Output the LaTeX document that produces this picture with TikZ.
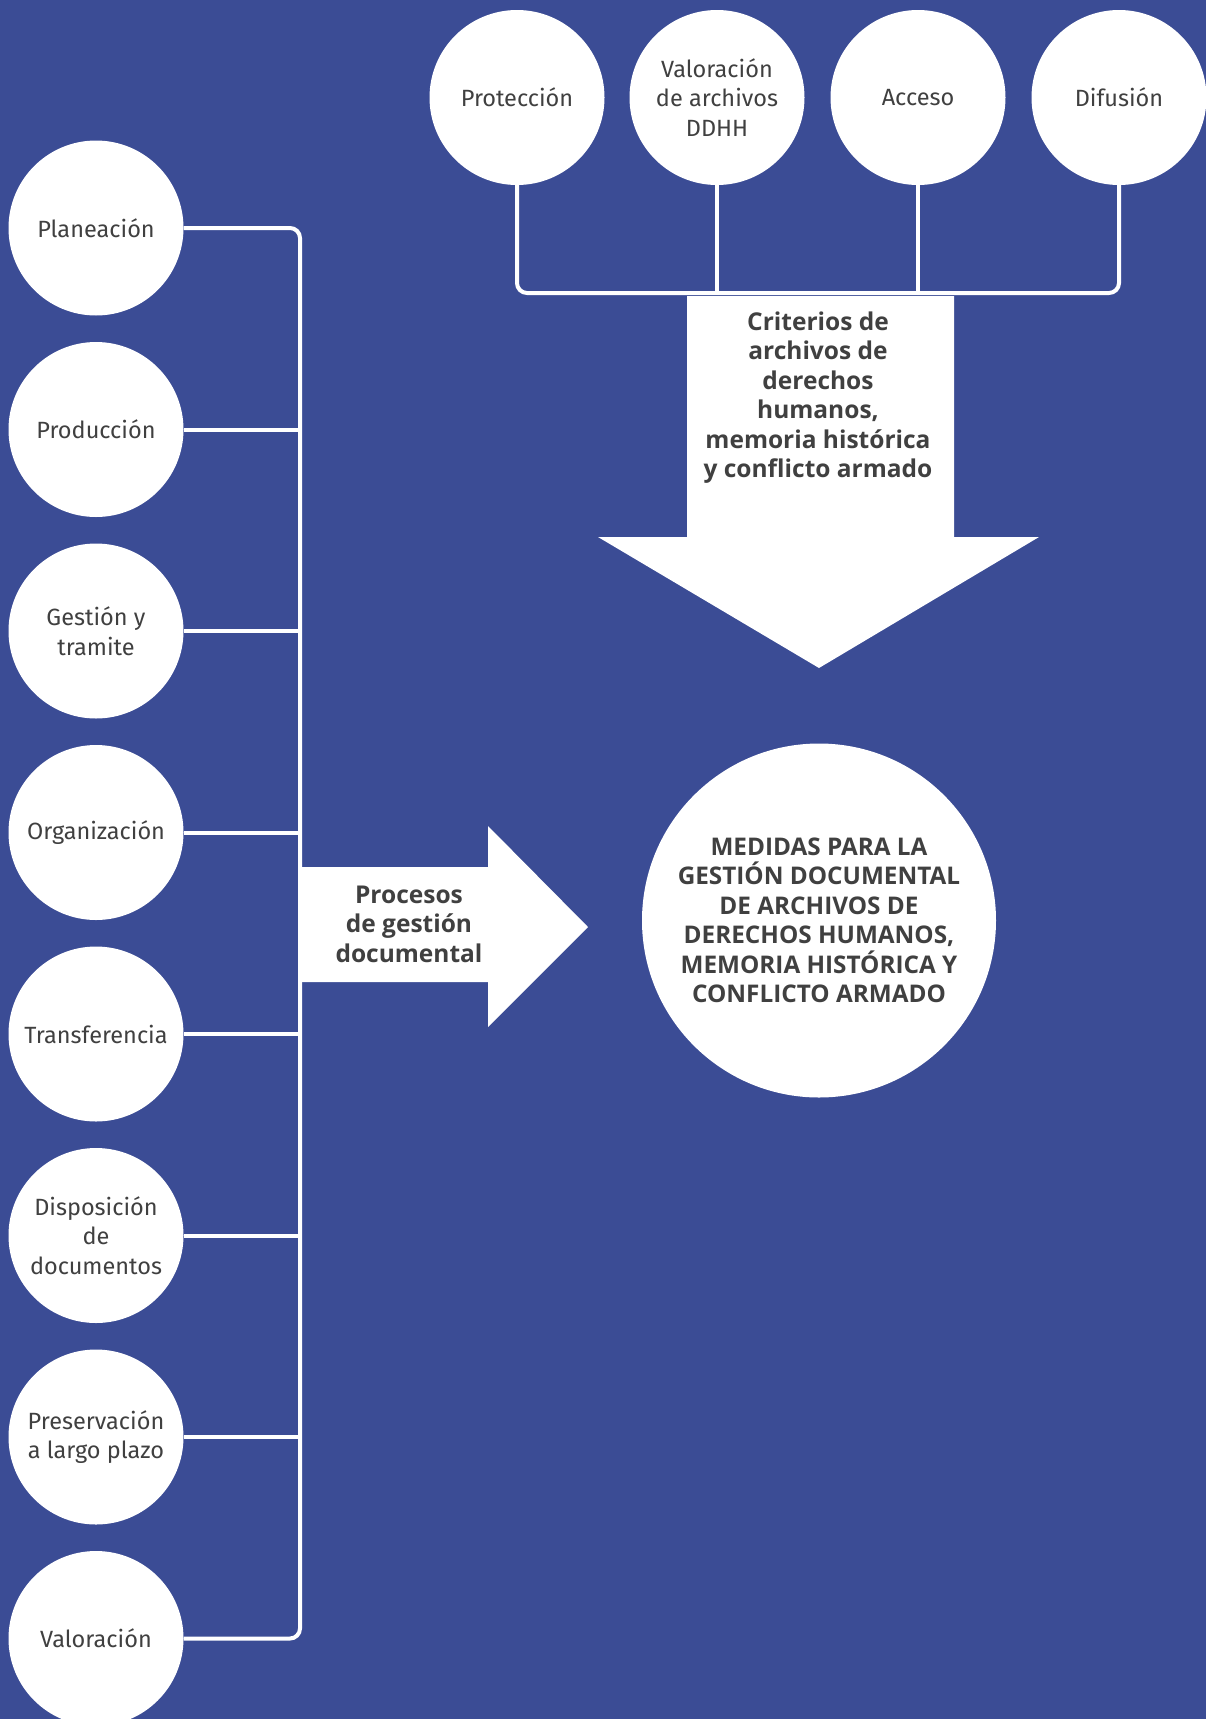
\documentclass[tikz,border=0pt]{standalone}
\usepackage{fontspec}
\setmainfont{Fira Sans}
\newfontfamily\boldfam{Open Sans}
\usetikzlibrary{calc}
\definecolor{bg}{HTML}{3B4C95}
\definecolor{txt}{HTML}{404040}
\begin{document}
\begin{tikzpicture}[x=1pt,y=-1pt,
  circ/.style={circle, fill=white, minimum size=175pt, inner sep=0pt, align=center, text=txt, font=\fontsize{23.5}{29.5}\selectfont},
  bigcirc/.style={circle, fill=white, minimum size=354pt, inner sep=0pt, align=center, text=txt, font=\boldfam\bfseries\fontsize{24.3}{29.5}\selectfont},
  lbl/.style={align=center, text=txt, inner sep=0pt, font=\boldfam\bfseries\fontsize{24.5}{29.5}\selectfont},
  bus/.style={draw=white, line width=4pt},
  shapefill/.style={fill=white}]
\useasboundingbox (0,0) rectangle (1206,1719);
\fill[bg] (0,0) rectangle (1206,1719);
\clip (0,0) rectangle (1206,1719);

% left column
\node[circ] (plan) at (96,228) {Planeación};
\node[circ] (prod) at (96,429.5) {Producción};
\node[circ] (gest) at (96,631) {Gestión y\\tramite};
\node[circ] (orga) at (96,832.5) {Organización};
\node[circ] (tran) at (96,1034) {Transferencia};
\node[circ] (disp) at (96,1235.5) {Disposición\\de\\documentos};
\node[circ] (pres) at (96,1437) {Preservación\\a largo plazo};
\node[circ] (valo) at (96,1638.5) {Valoración};

\coordinate (busTop) at (300,228);
\coordinate (busBot) at (300,1638.5);
\draw[bus, rounded corners=10pt] (plan.east) -- (busTop) -- (busBot) -- (valo.east);
\foreach \n in {prod,gest,orga,tran,disp,pres} {
  \draw[bus] (\n.east) -- (\n.east -| busTop);
}

% top row
\node[circ] (prot) at (517,97.5) {Protección};
\node[circ] (vddh) at (717,97.5) {Valoración\\de archivos\\DDHH};
\node[circ] (acce) at (918,97.5) {Acceso};
\node[circ] (difu) at (1119,97.5) {Difusión};

\coordinate (topBus) at (0,293);
\draw[bus, rounded corners=10pt] (prot.south) -- (prot.south |- topBus) -- (difu.south |- topBus) -- (difu.south);
\draw[bus] (vddh.south) -- (vddh.south |- topBus);
\draw[bus] (acce.south) -- (acce.south |- topBus);

% down arrow
\fill[shapefill] (687,296) -- (954,296) -- (954,537) -- (1039,537) -- (819,668) -- (598,537) -- (687,537) -- cycle;
\node[lbl] (crit) at (818,397.5) {Criterios de\\archivos de\\derechos\\humanos,\\memoria histórica\\y conflicto armado};

% right arrow
\fill[shapefill] (302,867) -- (488,867) -- (488,826) -- (588,927) -- (488,1027) -- (488,982) -- (302,982) -- cycle;
\node[lbl] (proc) at (409,924) {Procesos\\de gestión\\documental};

% big circle
\node[bigcirc] (medi) at (819,920.5) {MEDIDAS PARA LA\\GESTIÓN DOCUMENTAL\\DE ARCHIVOS DE\\DERECHOS HUMANOS,\\MEMORIA HISTÓRICA Y\\CONFLICTO ARMADO};
\end{tikzpicture}
\end{document}
